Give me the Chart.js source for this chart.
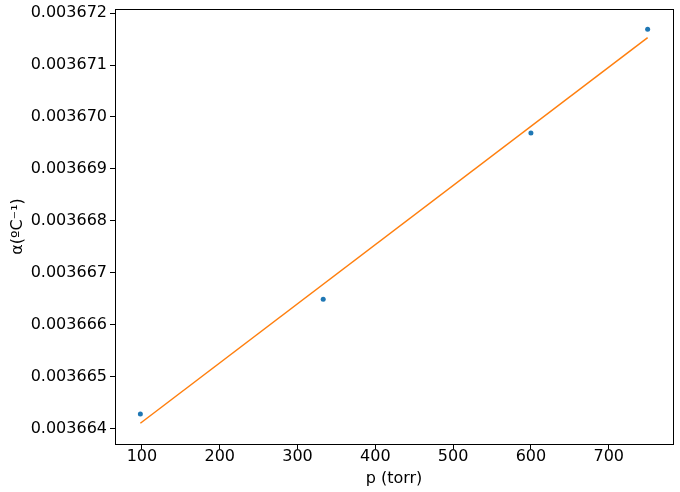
<!DOCTYPE html>
<html>
<head>
<meta charset="utf-8">
<script src="https://cdn.jsdelivr.net/npm/chart.js@4"></script>
<style>
  html, body { margin: 0; padding: 0; background: #fff; }
  #wrap { width: 680px; height: 492px; }
</style>
</head>
<body>
<div id="wrap"><canvas id="chart"></canvas></div>
<script>
// measured points
const pressures = [98, 333, 600, 750];
const alphas = [0.00366428, 0.00366649, 0.00366969, 0.00367169];

// fitted line ends
const fitX = [98, 750];
const fitY = [0.0036641, 0.00367153];

const xTicks = [100, 200, 300, 400, 500, 600, 700];
const yTicks = [0.003664, 0.003665, 0.003666, 0.003667, 0.003668, 0.003669, 0.00367, 0.003671, 0.003672];

const xRange = [65.4, 782.6];
const yRange = [0.0036637, 0.00367208];

const tickFont = { family: "DejaVu Sans", size: 16 };

// matplotlib-ish box around the axes
const frame = {
  id: "frame",
  afterDraw(chart) {
    const a = chart.chartArea;
    const ctx = chart.ctx;
    ctx.save();
    ctx.strokeStyle = "#000";
    ctx.lineWidth = 1;
    ctx.strokeRect(Math.round(a.left) + 0.5, Math.round(a.top) + 0.5,
      Math.round(a.right - a.left), Math.round(a.bottom - a.top));
    ctx.restore();
  },
};

function pts(xs, ys) {
  return xs.map((x, i) => ({ x: x, y: ys[i] }));
}

new Chart(document.getElementById("chart"), {
  type: "scatter",
  data: {
    datasets: [
      {
        data: pts(pressures, alphas),
        pointRadius: 2.5,
        pointBackgroundColor: "#1f77b4",
        pointBorderWidth: 0,
        showLine: false,
      },
      {
        data: pts(fitX, fitY),
        showLine: true,
        borderColor: "#ff7f0e",
        borderWidth: 1.5,
        pointRadius: 0,
      },
    ],
  },
  plugins: [frame],
  options: {
    responsive: true,
    maintainAspectRatio: false,
    animation: false,
    layout: { padding: { top: 9, right: 7, left: 0, bottom: 0 } },
    plugins: { legend: { display: false }, tooltip: { enabled: false } },
    scales: {
      x: {
        type: "linear",
        min: xRange[0],
        max: xRange[1],
        afterBuildTicks: (s) => { s.ticks = xTicks.map((v) => ({ value: v })); },
        afterFit: (s) => { s.height = 48; },
        grid: { drawOnChartArea: false, drawTicks: true, tickLength: 5, color: "#000" },
        border: { display: true, color: "#000" },
        ticks: { color: "#000", font: tickFont, padding: -2, maxRotation: 0,
          callback: (v) => String(v) },
        title: { display: true, text: "p (torr)", color: "#000", font: tickFont, padding: { top: 0, bottom: 4 } },
      },
      y: {
        type: "linear",
        min: yRange[0],
        max: yRange[1],
        afterBuildTicks: (s) => { s.ticks = yTicks.map((v) => ({ value: v })); },
        afterFit: (s) => { s.width = 115; },
        grid: { drawOnChartArea: false, drawTicks: true, tickLength: 5, color: "#000" },
        border: { display: true, color: "#000" },
        ticks: { color: "#000", font: { family: "DejaVu Sans", size: 16, lineHeight: 0.6 }, padding: 3,
          callback: (v) => Number(v).toFixed(6) },
        title: { display: true, text: "α(ºC⁻¹)", color: "#000", font: tickFont, padding: { top: 8, bottom: 0 } },
      },
    },
  },
});
</script>
</body>
</html>
